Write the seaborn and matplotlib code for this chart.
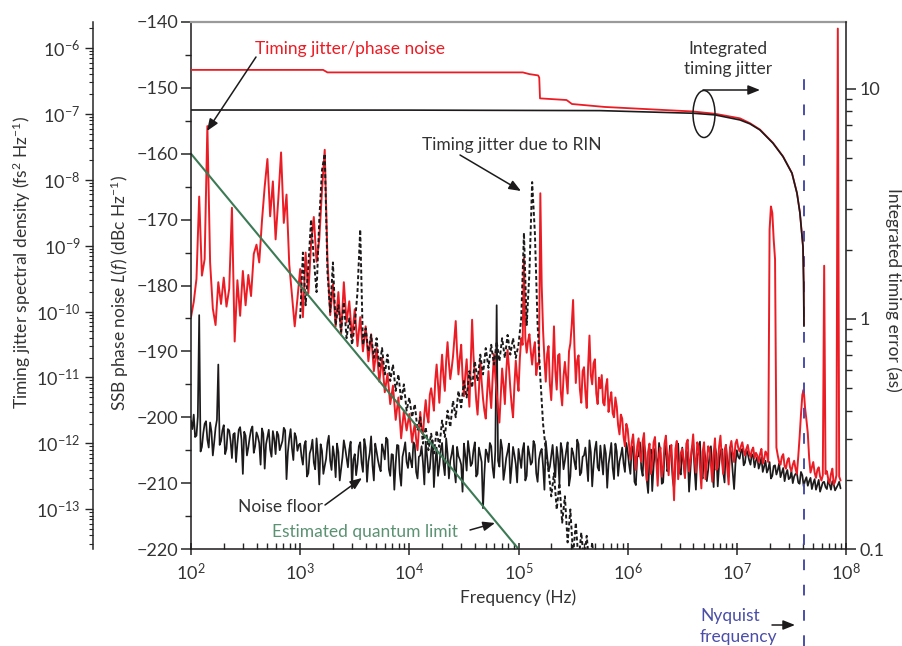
import numpy as np
import pandas as pd
import matplotlib
matplotlib.use("Agg")
import matplotlib.pyplot as plt
import seaborn as sns
from matplotlib.patches import Ellipse, FancyArrowPatch
from matplotlib.ticker import (LogLocator, FixedLocator, FixedFormatter,
                               MultipleLocator, LogFormatterMathtext, NullFormatter)

# ---------------------------------------------------------------- data
STEP = 0.025   # sampling step of the measured spectra (decades)
HALF = 0.0125  # the "mid" arrays sit half a step after the main samples

# Noise floor (black, dBc/Hz), sampled from 10^d in STEP increments
floor_1e2 = [-200.5, -199.6, -202.8, -184.5, -204.5, -201.0, -203.4, -200.8, -205.8, -201.6,
             -192.0, -203.6, -201.2, -204.8, -202.0, -206.2, -202.4, -204.0, -201.5, -208.6,
             -202.8, -204.6, -201.9, -205.4, -202.3, -203.9, -201.7, -207.8, -203.0, -204.9,
             -202.1, -205.6, -202.7, -204.3, -201.6, -209.4, -203.2, -204.7, -202.4, -205.1]
floor_1e3 = [-204.0, -207.2, -203.6, -208.5, -204.8, -206.9, -203.2, -210.2, -205.1, -207.4,
             -203.9, -206.6, -204.4, -209.1, -205.3, -207.8, -203.5, -206.2, -204.9, -210.8,
             -205.6, -207.1, -203.8, -208.3, -204.6, -206.7, -202.9, -209.6, -205.2, -207.5,
             -204.1, -206.4, -203.4, -208.9, -205.7, -207.0, -204.3, -210.4, -205.0, -206.8]
floor_1e4 = [-205.4, -207.6, -204.2, -209.3, -205.8, -206.9, -203.7, -208.4, -205.1, -210.6,
             -204.6, -207.3, -203.9, -208.8, -205.5, -206.6, -204.3, -209.9, -205.9, -207.2,
             -204.0, -208.1, -205.3, -207.0, -203.8, -208.6, -205.7, -213.8, -204.9, -206.8,
             -204.4, -209.2, -183.0, -207.5, -204.7, -208.0, -205.2, -210.0, -204.5, -207.1]
floor_1e5 = [-204.8, -207.7, -203.9, -208.9, -205.6, -206.8, -204.2, -209.8, -205.3, -207.4,
             -203.6, -208.2, -205.9, -207.0, -204.5, -210.1, -205.0, -206.6, -203.8, -209.0,
             -205.4, -207.9, -204.1, -208.4, -205.8, -206.9, -203.5, -210.5, -204.9, -207.6,
             -204.3, -208.7, -205.5, -207.1, -203.9, -209.4, -205.2, -206.7, -204.6, -208.3]
floor_1e6 = [-205.2, -208.6, -204.4, -210.3, -205.9, -207.8, -204.0, -209.5, -206.2, -211.2,
             -204.8, -208.1, -205.5, -209.9, -204.3, -207.4, -206.0, -210.8, -205.0, -208.4,
             -204.6, -209.2, -205.7, -207.9, -204.1, -211.0, -205.3, -208.8, -204.9, -209.7,
             -205.8, -207.6, -204.5, -210.5, -205.1, -208.3, -204.2, -209.0, -205.6, -210.9]
floor_1e7 = [-205.0, -206.3, -204.8, -206.9, -205.5, -207.2, -205.9, -206.6, -207.8, -206.1,
             -207.5, -208.4, -206.8, -208.9, -207.3, -208.0, -209.1, -207.7, -208.6, -209.4,
             -208.2, -209.0, -208.5, -210.1, -208.8, -209.6, -210.4, -209.2, -210.0, -211.0,
             -209.5, -210.6, -209.8, -210.9, -210.2, -209.7, -211.1, -210.3, -210.8]
floor_mid_1e2 = [-201.8, -203.0, -199.9, -205.2, -202.4, -200.6, -204.6, -202.2, -203.8, -200.4,
                 -204.2, -202.0, -205.6, -201.8, -203.6, -202.6, -206.8, -201.9, -203.4, -202.2,
                 -205.8, -203.1, -201.4, -204.4, -202.9, -207.2, -202.5, -204.1, -201.9, -206.0,
                 -203.3, -202.2, -205.0, -203.6, -202.0, -205.3, -201.8, -206.5, -203.0, -204.2]
floor_mid_1e3 = [-206.0, -204.3, -209.0, -205.5, -203.4, -207.9, -205.8, -204.1, -208.6, -206.3,
                 -202.8, -208.0, -205.9, -204.0, -209.6, -206.1, -204.7, -207.6, -203.7, -206.4,
                 -208.8, -204.4, -206.9, -203.3, -209.8, -205.4, -207.3, -204.0, -206.5, -208.2,
                 -205.0, -203.1, -207.9, -205.6, -211.0, -204.2, -208.5, -206.0, -203.8, -207.7]
floor_mid_1e4 = [-206.6, -203.8, -208.3, -206.0, -204.4, -210.2, -205.9, -207.8, -203.5, -206.9,
                 -208.9, -204.9, -207.1, -203.2, -209.3, -205.6, -207.9, -204.5, -206.4, -211.3,
                 -205.8, -203.6, -207.4, -205.0, -209.0, -204.6, -206.8, -208.6, -205.5, -203.9,
                 -207.6, -205.1, -206.6, -203.4, -209.5, -206.2, -204.0, -207.5, -205.7, -209.9]
floor_mid_1e5 = [-206.2, -205.0, -209.6, -204.4, -207.2, -203.6, -208.5, -206.4, -204.8, -211.0,
                 -205.9, -207.5, -204.2, -209.1, -206.3, -203.9, -207.9, -205.1, -210.4, -204.7,
                 -206.8, -203.4, -208.8, -206.0, -204.6, -209.7, -205.3, -207.3, -203.7, -208.1,
                 -206.5, -204.2, -210.7, -205.6, -207.7, -204.0, -208.9, -205.8, -207.0, -203.9]
floor_mid_1e6 = [-207.1, -204.6, -209.8, -206.0, -203.8, -208.9, -205.4, -211.5, -204.9, -207.5,
                 -206.3, -203.9, -210.1, -205.7, -208.2, -204.3, -209.4, -206.6, -204.0, -208.7,
                 -206.9, -205.1, -211.3, -204.7, -207.8, -205.9, -203.7, -209.3, -206.2, -208.0,
                 -204.4, -210.6, -205.5, -207.3, -204.8, -209.9, -206.5, -204.6, -208.4, -207.0]
floor_mid_1e7 = [-206.0, -205.2, -207.3, -204.9, -206.5, -205.6, -207.6, -206.0, -207.1, -208.3,
                 -206.6, -207.9, -209.3, -207.4, -208.7, -207.0, -208.4, -209.7, -208.0, -209.2,
                 -210.0, -208.6, -209.9, -208.3, -210.5, -209.1, -209.7, -210.9, -209.4, -210.3,
                 -211.3, -209.9, -210.6, -209.5, -211.0, -210.2, -210.7, -209.8]

# Timing jitter / phase noise (red, dBc/Hz)
phase_1e2 = [-184.8, -182.5, -179.0, -166.5, -178.5, -176.0, -155.8, -176.5, -183.5, -186.0,
             -179.5, -182.8, -178.8, -183.2, -180.5, -168.2, -188.5, -179.2, -184.6, -177.8,
             -183.0, -178.4, -181.6, -175.2, -173.8, -176.5, -170.2, -165.0, -160.8, -169.5,
             -164.2, -173.0, -166.8, -159.8, -170.5, -166.2, -176.8, -181.5, -186.2, -182.0]
phase_1e3 = [-177.5, -184.8, -175.0, -181.2, -173.6, -169.6, -176.4, -173.0, -165.5, -159.4,
             -176.0, -184.5, -179.8, -186.2, -181.0, -187.4, -179.5, -185.6, -182.4, -188.0,
             -183.6, -189.2, -184.8, -190.0, -186.2, -191.5, -187.4, -193.0, -189.5, -194.6,
             -191.0, -196.2, -193.4, -198.0, -195.2, -200.4, -197.0, -203.2, -199.0, -202.0]
phase_1e4 = [-199.5, -203.8, -201.0, -205.0, -199.2, -202.6, -197.4, -200.8, -195.6, -199.0,
             -192.0, -197.8, -190.5, -196.0, -188.6, -194.2, -190.8, -185.4, -193.5, -189.0,
             -196.8, -191.2, -198.4, -185.2, -194.0, -199.6, -191.5, -197.2, -200.2, -193.0,
             -198.6, -190.4, -196.4, -200.8, -192.6, -198.0, -189.8, -195.6, -200.0, -191.4]
phase_1e5 = [-196.0, -188.0, -175.8, -190.2, -187.4, -192.0, -188.6, -191.8, -166.0, -186.8,
             -194.6, -189.2, -197.4, -186.2, -195.8, -190.4, -198.2, -191.6, -196.4, -188.8,
             -182.2, -194.8, -190.6, -197.8, -192.4, -198.6, -187.6, -195.0, -191.2, -198.0,
             -195.6, -197.8, -195.4, -199.2, -196.2, -200.0, -198.4, -202.6, -200.2, -204.4]
phase_1e6 = [-201.8, -206.4, -202.6, -208.0, -203.2, -206.8, -202.4, -209.6, -204.0, -207.2,
             -203.0, -210.4, -204.6, -207.8, -202.8, -208.8, -204.2, -212.6, -203.6, -207.4,
             -204.8, -209.2, -203.4, -206.6, -202.6, -208.4, -204.4, -210.8, -203.8, -207.0,
             -204.8, -209.8, -203.2, -207.6, -202.8, -208.6, -204.2, -210.2, -203.6, -206.8]
phase_1e7 = [-203.4, -205.2, -203.8, -205.8, -204.2, -206.0, -204.6, -205.4, -206.8, -204.8,
             -206.4, -205.6, -171.5, -169.0, -176.0, -205.8, -207.2, -205.6, -207.8, -206.2,
             -208.2, -206.6, -208.6, -203.0, -196.6, -198.6, -202.4, -208.4, -206.8, -209.2,
             -207.6, -209.6, -177.0, -208.2, -210.0, -207.8, -209.8, -141.0, -209.6]
phase_mid_1e4 = [-201.6, -202.2, -203.4, -201.8, -202.0, -199.6, -199.8, -196.6, -197.2, -194.4,
                 -195.0, -193.6, -193.8, -191.4, -191.8, -192.6, -188.0, -190.2, -191.0, -193.8,
                 -193.6, -195.2, -192.0, -190.6, -197.4, -195.8, -194.6, -199.0, -196.4, -196.0,
                 -194.2, -193.8, -198.6, -196.6, -195.0, -193.2, -192.4, -198.2, -195.2, -194.0]
phase_mid_1e5 = [-191.0, -189.0, -188.0, -188.4, -190.0, -189.8, -193.6, -192.0, -180.0, -191.2,
                 -190.4, -195.0, -192.6, -193.0, -190.6, -196.2, -193.8, -194.0, -190.0, -186.0,
                 -189.2, -191.4, -195.8, -193.0, -196.2, -192.4, -193.6, -191.8, -196.4, -194.0,
                 -193.6, -198.2, -194.2, -197.4, -199.4, -197.0, -201.2, -199.6, -203.0, -201.0]
phase_mid_1e6 = [-204.2, -203.8, -205.6, -204.4, -205.8, -203.6, -207.2, -205.2, -208.6, -203.8,
                 -206.8, -205.6, -209.0, -204.0, -206.0, -205.4, -208.0, -204.8, -209.4, -205.4,
                 -206.6, -204.0, -208.2, -204.8, -206.2, -203.8, -207.6, -205.2, -209.4, -204.4,
                 -207.2, -205.6, -208.0, -204.4, -206.4, -205.0, -207.8, -204.6, -205.4, -204.0]
phase_mid_1e7 = [-204.6, -204.4, -205.0, -204.8, -205.4, -205.0, -206.2, -205.8, -205.6, -207.0,
                 -205.2, -206.8, -168.0, -173.0, -204.6, -206.8, -206.0, -207.4, -206.6, -207.6,
                 -207.2, -207.8, -206.0, -199.6, -195.8, -200.4, -206.2, -207.6, -208.4, -208.0,
                 -209.0, -208.8, -208.6, -209.4, -208.6, -210.2, -208.8, -209.0]

# Timing jitter due to RIN (black dashed, dBc/Hz), from 10^3 Hz in STEP increments
rin_start = 3.0
rin_db = [-185, -175, -183, -177, -170, -176, -181, -170, -162.5, -160,
          -178, -184, -176.5, -186, -183, -187, -182.5, -188, -185, -189,
          -186, -181, -171.5, -189, -186.5, -190, -187.5, -191, -188, -192.5,
          -189.5, -193.5, -190.5, -194.5, -192, -196, -193.5, -197.5, -195, -199,
          -197, -200, -198, -202, -200, -204, -201.5, -205, -202.5, -205.5,
          -202, -204.5, -200.5, -203, -199, -201.5, -197.5, -200, -196, -198.5,
          -194.5, -197, -193, -195.5, -191.5, -194.5, -190.5, -193.5, -189.5, -192.5,
          -189, -192, -188.5, -191.5, -188, -191, -187.5, -190.5, -188, -191,
          -189, -185, -172, -186, -178, -164.3, -172, -186, -194, -201,
          -205, -208, -212, -208.5, -214, -210, -216, -212, -219, -214,
          -221, -216, -222, -217.5, -222, -218, -223, -219, -224, -220]

# Estimated quantum limit (green)
quantum_hz = [1e2, 1e5]
quantum_db = [-160.0, -220.0]

# Integrated timing error (right axis, attoseconds)
int_black_logf = [2.0, 4.0, 5.746, 6.598, 6.80, 7.029, 7.12, 7.212, 7.331, 7.423,
                  7.505, 7.551, 7.578, 7.606, 7.612, 7.615]
int_black_as = [8.10, 8.09, 8.05, 7.84, 7.71, 7.33, 7.05, 6.63, 5.81, 5.08,
                4.30, 3.52, 2.89, 2.06, 1.45, 0.93]
int_red_logf = [2.0, 3.21, 3.25, 5.04, 5.10, 5.18, 5.19, 5.197, 5.44, 5.49,
                5.79, 6.598, 6.80, 7.029, 7.12, 7.212, 7.331, 7.423, 7.505, 7.551,
                7.578, 7.606, 7.612, 7.615]
int_red_as = [12.1, 12.1, 11.8, 11.8, 11.6, 11.45, 11.2, 9.1, 8.95, 8.6,
              8.35, 7.98, 7.80, 7.45, 7.10, 6.66, 5.83, 5.09, 4.31, 3.53,
              2.90, 2.07, 1.46, 0.94]

nyquist_hz = 4.12e7

x_ticks_exp = [2, 3, 4, 5, 6, 7, 8]
right_ticks = [0.1, 1, 10]
right_labels = ["0.1", "1", "10"]


def spectrum(chunks):
    logs, vals = [], []
    for start, values in chunks:
        logs += [start + STEP * i for i in range(len(values))]
        vals += list(values)
    df = pd.DataFrame({"lf": logs, "db": vals}).sort_values("lf")
    df["f"] = 10 ** df["lf"]
    return df


floor_df = spectrum([(2, floor_1e2), (3, floor_1e3), (4, floor_1e4),
                     (5, floor_1e5), (6, floor_1e6), (7, floor_1e7),
                     (2 + HALF, floor_mid_1e2), (3 + HALF, floor_mid_1e3),
                     (4 + HALF, floor_mid_1e4), (5 + HALF, floor_mid_1e5),
                     (6 + HALF, floor_mid_1e6), (7 + HALF, floor_mid_1e7)])
phase_df = spectrum([(2, phase_1e2), (3, phase_1e3), (4, phase_1e4),
                     (5, phase_1e5), (6, phase_1e6), (7, phase_1e7),
                     (4 + HALF, phase_mid_1e4), (5 + HALF, phase_mid_1e5),
                     (6 + HALF, phase_mid_1e6), (7 + HALF, phase_mid_1e7)])
rin_df = spectrum([(rin_start, rin_db)])
quant_df = pd.DataFrame({"f": quantum_hz, "db": quantum_db})
intb_df = pd.DataFrame({"f": 10 ** np.array(int_black_logf), "v": int_black_as})
intr_df = pd.DataFrame({"f": 10 ** np.array(int_red_logf), "v": int_red_as})

# ---------------------------------------------------------------- style
sns.set_style("ticks")
plt.rcParams.update({
    "font.family": ["Lato", "DejaVu Sans"],
    "mathtext.fontset": "custom",
    "mathtext.rm": "Lato",
    "mathtext.it": "Lato:italic",
    "mathtext.bf": "Lato:bold",
    "axes.unicode_minus": True,
})

RED = "#ec1c24"
BLACK = "#1c1a1b"
GREEN = "#3c7a55"
GREEN_TXT = "#5a9272"
BLUE = "#4a4ea8"
TXT = "#333333"

W, H = 902, 646
L, R, T, B = 191, 846, 22, 549
fig = plt.figure(figsize=(W / 100, H / 100), dpi=100)
rect = [L / W, 1 - B / H, (R - L) / W, (B - T) / H]


def P(x, y):
    return (x / W, 1 - y / H)


# extra left axis: timing jitter spectral density
ax3 = fig.add_axes(rect)
ax3.set_yscale("log")
ax3.set_ylim(10 ** -13.603, 10 ** -5.605)
for s in ["top", "right", "bottom"]:
    ax3.spines[s].set_visible(False)
ax3.spines["left"].set_position(("axes", -98 / (R - L)))
ax3.spines["left"].set_linewidth(1.1)
ax3.xaxis.set_visible(False)
ax3.patch.set_visible(False)
ax3.yaxis.set_major_locator(LogLocator(base=10, numticks=30))
ax3.yaxis.set_minor_locator(LogLocator(base=10, subs=np.arange(2, 10), numticks=30))
ax3.yaxis.set_major_formatter(LogFormatterMathtext())
ax3.yaxis.set_minor_formatter(NullFormatter())
ax3.tick_params(axis="y", which="major", direction="out", length=6, width=1,
                labelsize=13, labelcolor=TXT, pad=3)
ax3.tick_params(axis="y", which="minor", direction="out", length=3, width=0.8)

# main axis
ax = fig.add_axes(rect)
ax.set_xscale("log")
ax.set_xlim(1e2, 1e8)
ax.set_ylim(-220, -140)

sns.lineplot(data=floor_df, x="f", y="db", ax=ax, color=BLACK, lw=1.25,
             estimator=None, sort=False)
sns.lineplot(data=phase_df, x="f", y="db", ax=ax, color=RED, lw=1.4,
             estimator=None, sort=False)
sns.lineplot(data=rin_df, x="f", y="db", ax=ax, color=BLACK, lw=1.4,
             estimator=None, sort=False, linestyle=(0, (2.0, 1.3)))
sns.lineplot(data=quant_df, x="f", y="db", ax=ax, color=GREEN, lw=1.5,
             estimator=None, sort=False)

ax.set_xlabel("")
ax.set_ylabel("")
ax.xaxis.set_major_locator(FixedLocator([10.0 ** e for e in x_ticks_exp]))
ax.xaxis.set_minor_locator(LogLocator(base=10, subs=np.arange(2, 10), numticks=30))
ax.xaxis.set_major_formatter(LogFormatterMathtext())
ax.xaxis.set_minor_formatter(NullFormatter())
ax.yaxis.set_major_locator(MultipleLocator(10))
ax.yaxis.set_minor_locator(MultipleLocator(5))
ax.tick_params(axis="y", which="major", direction="out", length=7, width=1.1,
               labelsize=13, labelcolor=TXT, pad=2)
ax.tick_params(axis="y", which="minor", direction="out", length=4, width=1)
ax.tick_params(axis="x", which="major", direction="inout", length=9, width=1.1,
               labelsize=13, labelcolor=TXT, pad=5)
ax.tick_params(axis="x", which="minor", direction="in", length=4.5, width=1)
ax.spines["top"].set_color("#9a9a9a")
ax.spines["top"].set_linewidth(1.6)
ax.spines["right"].set_visible(False)
for s in ["left", "bottom"]:
    ax.spines[s].set_linewidth(1.1)
    ax.spines[s].set_color(BLACK)

ax.axvline(nyquist_hz, ymin=(B - 646) / (B - T), ymax=(B - 78) / (B - T),
           clip_on=False, color=BLUE, lw=1.4, dashes=(5.5, 7.5), zorder=5)

# right axis: integrated timing error
ax2 = ax.twinx()
ax2.set_yscale("log")
ax2.set_ylim(0.1, 10 ** 1.291)
sns.lineplot(data=intr_df, x="f", y="v", ax=ax2, color=RED, lw=1.3,
             estimator=None, sort=False)
sns.lineplot(data=intb_df, x="f", y="v", ax=ax2, color=BLACK, lw=1.2,
             estimator=None, sort=False)
ax2.set_xlim(1e2, 1e8)
ax2.set_xlabel("")
ax2.set_ylabel("")
ax2.yaxis.set_major_locator(FixedLocator(right_ticks))
ax2.yaxis.set_major_formatter(FixedFormatter(right_labels))
ax2.yaxis.set_minor_locator(LogLocator(base=10, subs=np.arange(2, 10), numticks=30))
ax2.yaxis.set_minor_formatter(NullFormatter())
ax2.tick_params(axis="y", which="major", direction="out", length=7, width=1.1,
                labelsize=13, labelcolor=TXT, pad=3)
ax2.tick_params(axis="y", which="minor", direction="out", length=4.5, width=1)
for s in ["left", "top", "bottom"]:
    ax2.spines[s].set_visible(False)
ax2.spines["right"].set_linewidth(1.1)
ax2.spines["right"].set_color(BLACK)

# ---------------------------------------------------------------- labels
fig.text(*P(22, 262), "Timing jitter spectral density (fs$^2$ Hz$^{-1}$)",
         rotation=90, ha="center", va="center", fontsize=12.5, color=TXT)
fig.text(*P(120, 293), "SSB phase noise $\\mathit{L}(\\mathit{f})$ (dBc Hz$^{-1}$)",
         rotation=90, ha="center", va="center", fontsize=12.5, color=TXT)
fig.text(*P(893, 290), "Integrated timing error (as)",
         rotation=270, ha="center", va="center", fontsize=12.5, color=TXT)
fig.text(*P(518, 598), "Frequency (Hz)", ha="center", va="center",
         fontsize=12.5, color=TXT)

fig.text(*P(255, 49), "Timing jitter/phase noise", ha="left", va="center",
         fontsize=12.5, color=RED)
fig.text(*P(728, 59), "Integrated\ntiming jitter", ha="center", va="center",
         fontsize=12.5, color=TXT, linespacing=1.25)
fig.text(*P(422, 145), "Timing jitter due to RIN", ha="left", va="center",
         fontsize=12.5, color=TXT)
fig.text(*P(238, 507), "Noise floor", ha="left", va="center",
         fontsize=12.5, color=TXT)
fig.text(*P(272, 532), "Estimated quantum limit", ha="left", va="center",
         fontsize=12.5, color=GREEN_TXT)
fig.text(*P(700, 608), "Nyquist\nfrequency", ha="left", va="top",
         fontsize=12.5, color=BLUE, linespacing=1.4)

arrow_kw = dict(arrowstyle="-|>,head_length=0.55,head_width=0.22",
                mutation_scale=13, color=BLACK, lw=1.1, shrinkA=0, shrinkB=0)
for (x0, y0), (x1, y1) in [((256, 57), (207, 131)),
                           ((703, 90), (760, 90)),
                           ((460, 155), (521, 191)),
                           ((325, 505), (362, 478)),
                           ((470, 530), (495, 523)),
                           ((772, 625), (795, 625))]:
    fig.add_artist(FancyArrowPatch(P(x0, y0), P(x1, y1),
                                   transform=fig.transFigure, **arrow_kw))

fig.add_artist(Ellipse(P(704, 114), 22 / W, 47 / H, transform=fig.transFigure,
                       fill=False, lw=1.1, ec=BLACK))

fig.savefig("out.png", dpi=100)
